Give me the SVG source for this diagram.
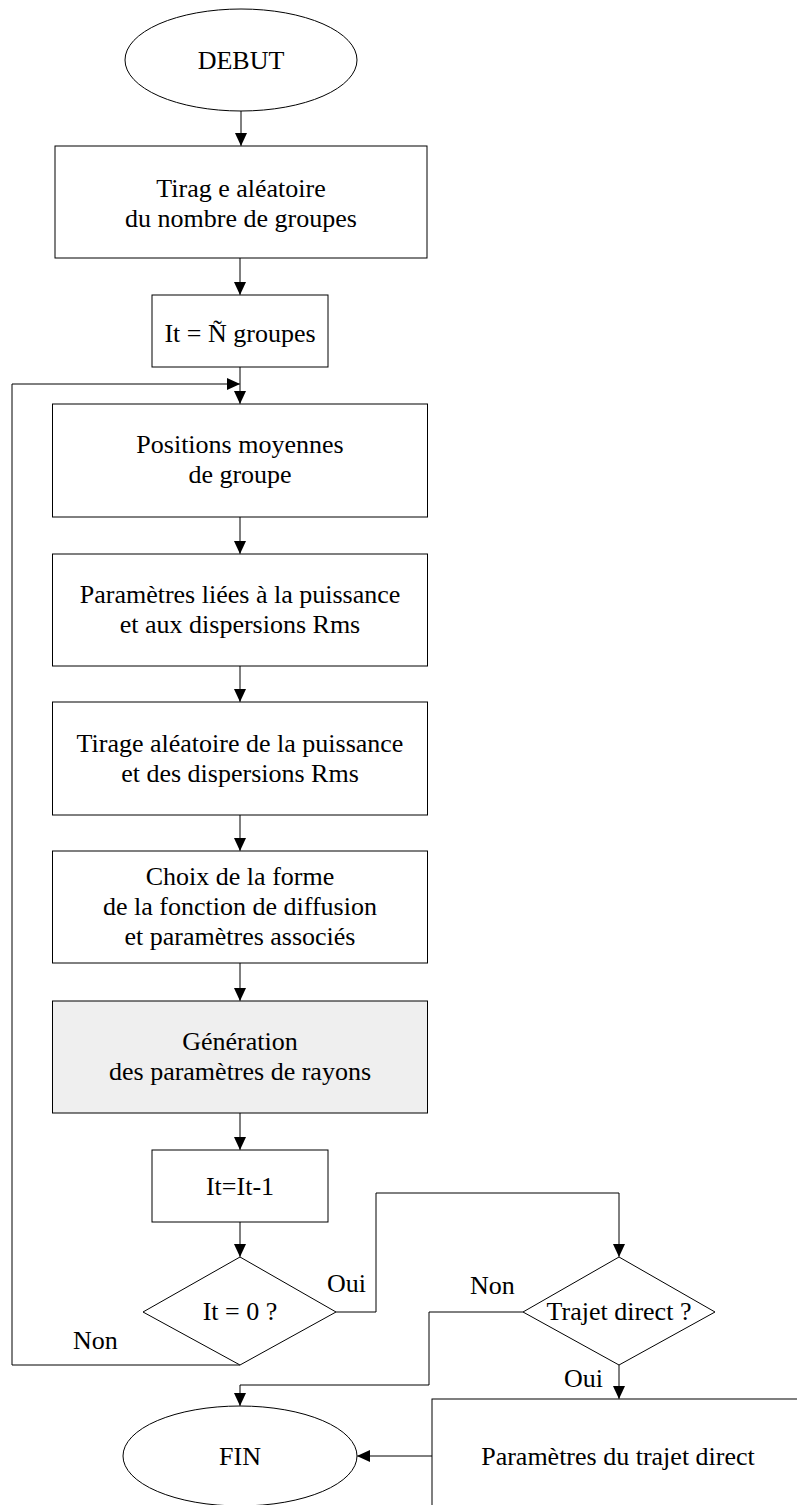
<svg xmlns="http://www.w3.org/2000/svg" width="797" height="1505" viewBox="0 0 797 1505">
<style>
.n{fill:#fff;stroke:#000;stroke-width:1}
.g{fill:#efefef;stroke:#000;stroke-width:1}
.t{font-family:"Liberation Serif","Times New Roman",serif;font-size:26px;fill:#000;text-anchor:middle}
.l{font-family:"Liberation Serif","Times New Roman",serif;font-size:26px;fill:#000}
.c{fill:none;stroke:#000;stroke-width:1}
</style>
<defs>
<marker id="ah" markerUnits="userSpaceOnUse" markerWidth="12" markerHeight="13" refX="13" refY="6" orient="auto">
<path d="M0,0 L13,6 L0,12 z" fill="#000"/>
</marker>
</defs>
<rect width="797" height="1505" fill="#fff"/>
<g id="connectors">
<path class="c" d="M241 111 V146" marker-end="url(#ah)"/>
<path class="c" d="M240 258 V295" marker-end="url(#ah)"/>
<path class="c" d="M240 367 V404" marker-end="url(#ah)"/>
<path class="c" d="M240 1365 H12 V384 H240" marker-end="url(#ah)"/>
<path class="c" d="M240 517 V554" marker-end="url(#ah)"/>
<path class="c" d="M240 666 V702" marker-end="url(#ah)"/>
<path class="c" d="M240 815 V851" marker-end="url(#ah)"/>
<path class="c" d="M240 963 V1001" marker-end="url(#ah)"/>
<path class="c" d="M240 1113 V1150" marker-end="url(#ah)"/>
<path class="c" d="M240 1222 V1257" marker-end="url(#ah)"/>
<path class="c" d="M336 1312 H376 V1193 H619 V1257" marker-end="url(#ah)"/>
<path class="c" d="M523 1312 H429 V1385 H240 V1406" marker-end="url(#ah)"/>
<path class="c" d="M619 1365 V1399" marker-end="url(#ah)"/>
<path class="c" d="M432 1456 H357" marker-end="url(#ah)"/>
<text class="l" x="327" y="1292">Oui</text>
<text class="l" x="73" y="1349">Non</text>
<text class="l" x="470" y="1294">Non</text>
<text class="l" x="564" y="1387">Oui</text>
</g>
<g id="debut">
<ellipse class="n" cx="241" cy="60" rx="116" ry="51"/>
<text class="t" x="241" y="69">DEBUT</text>
</g>
<g id="tirage-groupes">
<rect class="n" x="55" y="146" width="372" height="112"/>
<text class="t" x="241" y="197">Tirag e aléatoire</text>
<text class="t" x="241" y="227">du nombre de groupes</text>
</g>
<g id="it-init">
<rect class="n" x="152" y="295" width="176" height="72"/>
<text class="t" x="240" y="342">It = Ñ groupes</text>
</g>
<g id="positions">
<rect class="n" x="52.5" y="404" width="375" height="113"/>
<text class="t" x="240" y="453">Positions moyennes</text>
<text class="t" x="240" y="483">de groupe</text>
</g>
<g id="parametres-puissance">
<rect class="n" x="52.5" y="554" width="375" height="112"/>
<text class="t" x="240" y="603">Paramètres liées à la puissance</text>
<text class="t" x="240" y="633">et aux dispersions Rms</text>
</g>
<g id="tirage-puissance">
<rect class="n" x="52.5" y="702" width="375" height="113"/>
<text class="t" x="240" y="752">Tirage aléatoire de la puissance</text>
<text class="t" x="240" y="782">et des dispersions Rms</text>
</g>
<g id="choix-forme">
<rect class="n" x="52.5" y="851" width="375" height="112"/>
<text class="t" x="240" y="885">Choix de la forme</text>
<text class="t" x="240" y="915">de la fonction de diffusion</text>
<text class="t" x="240" y="945">et paramètres associés</text>
</g>
<g id="generation">
<rect class="g" x="52.5" y="1001" width="375" height="112"/>
<text class="t" x="240" y="1050">Génération</text>
<text class="t" x="240" y="1080">des paramètres de rayons</text>
</g>
<g id="it-decrement">
<rect class="n" x="152" y="1150" width="176" height="72"/>
<text class="t" x="240" y="1195">It=It-1</text>
</g>
<g id="test-it">
<polygon class="n" points="240,1257 336,1312 240,1365 143,1312"/>
<text class="t" x="240" y="1320">It = 0 ?</text>
</g>
<g id="test-trajet">
<polygon class="n" points="619,1257 715,1312 619,1365 523,1312"/>
<text class="t" x="619" y="1320">Trajet direct ?</text>
</g>
<g id="trajet-direct">
<rect class="n" x="432" y="1399" width="400" height="150"/>
<text class="t" x="618" y="1465">Paramètres du trajet direct</text>
</g>
<g id="fin">
<ellipse class="n" cx="240" cy="1456" rx="117" ry="50"/>
<text class="t" x="240" y="1465">FIN</text>
</g>
</svg>
